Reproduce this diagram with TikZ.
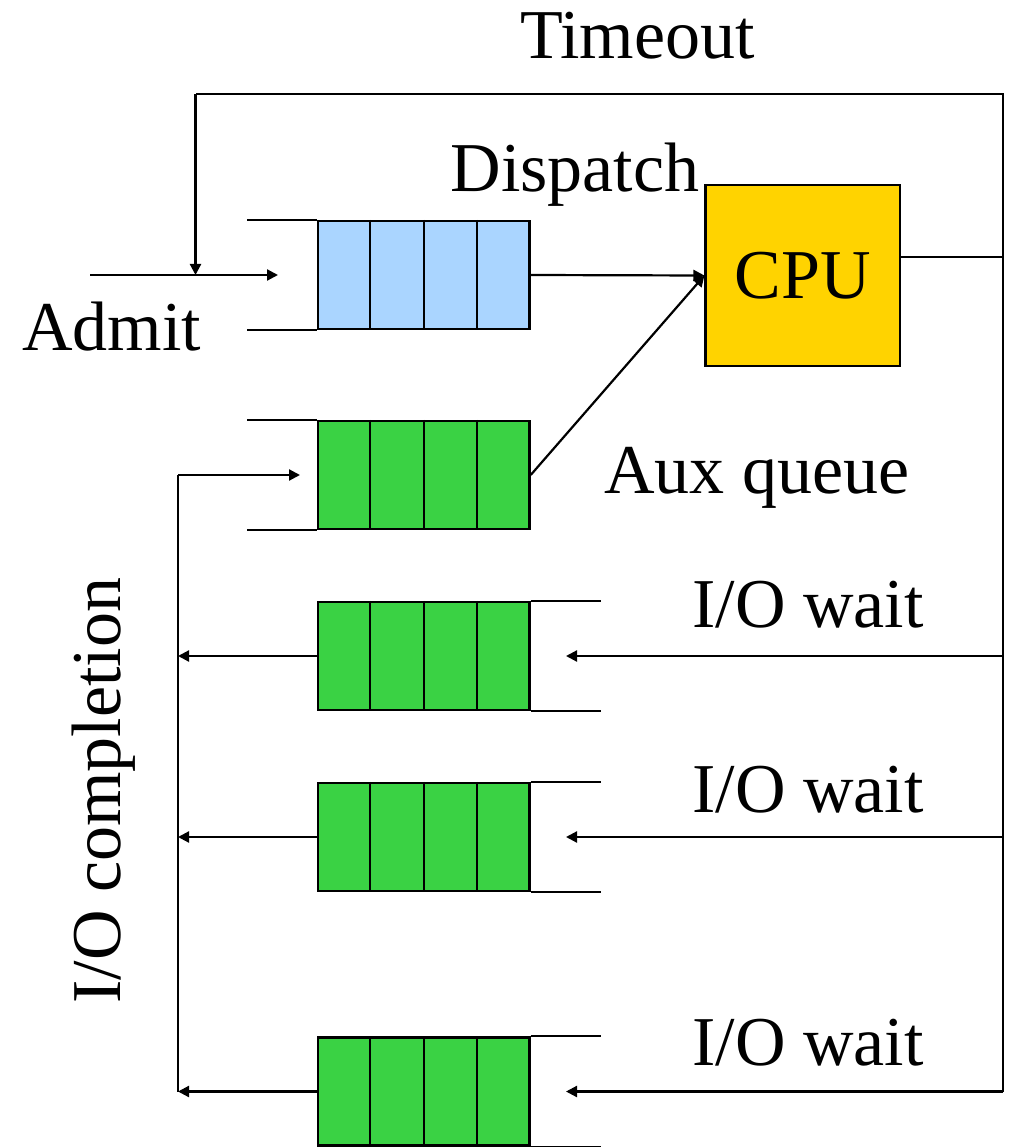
\documentclass[tikz,border=0pt]{standalone}
\usepackage{fontspec}
\setmainfont{Liberation Serif}
\usetikzlibrary{arrows.meta,calc}
\definecolor{qblue}{RGB}{170,213,255}
\definecolor{qgreen}{RGB}{58,210,68}
\definecolor{cpugold}{RGB}{255,211,0}
\begin{document}
\begin{tikzpicture}[x=1pt,y=-1pt,
  lbl/.style={font=\fontsize{70}{84}\selectfont, inner sep=0pt, anchor=base},
  qbox/.style={draw, line width=2.4pt, rectangle, inner sep=0pt, minimum width=211.5pt, minimum height=108pt},
  cpubox/.style={draw, line width=2.2pt, rectangle, fill=cpugold, inner sep=0pt, minimum width=194.5pt, minimum height=181pt, font=\fontsize{70}{84}\selectfont},
  arr/.style={-{Triangle[length=11pt,width=11pt]}},
  wire/.style={line width=2.2pt}]
\useasboundingbox (0,0) rectangle (1009,1147);

% queues
\node[qbox, fill=qblue]  (q0) at (423.75,275) {};
\node[qbox, fill=qgreen] (q1) at (423.75,475) {};
\node[qbox, fill=qgreen] (q2) at (423.75,656) {};
\node[qbox, fill=qgreen] (q3) at (423.75,837) {};
\node[qbox, fill=qgreen] (q4) at (423.75,1091.5) {};
\foreach \q in {q0,q1,q2,q3,q4}{
  \foreach \k in {1,2,3}{
    \draw[line width=2.4pt] ($(\q.north west)!\k/4!(\q.north east)$) -- ($(\q.south west)!\k/4!(\q.south east)$);
  }
}
% queue side rails
\foreach \q in {q0,q1}{
  \draw[wire] (\q.north west) -- ++(-70,0);
  \draw[wire] (\q.south west) -- ++(-70,0);
}
\foreach \q in {q2,q3,q4}{
  \draw[wire] (\q.north east) -- ++(70.5,0);
  \draw[wire] (\q.south east) -- ++(70.5,0);
}

% CPU
\node[cpubox] (cpu) at (802.75,275.5) {CPU};

% labels
\node[lbl] (timeout) at (637.5,59) {Timeout};
\node[lbl] (dispatch) at (575,192) {Dispatch};
\node[lbl] (admit) at (111.5,350) {Admit};
\node[lbl] (aux) at (757,493) {Aux queue};
\node[lbl] (w1) at (808,627) {I/O wait};
\node[lbl] (w2) at (808,812) {I/O wait};
\node[lbl] (w3) at (808,1065) {I/O wait};
\node[lbl, rotate=90] (ioc) at (120,790.5) {I/O completion};

% coordinates
\coordinate (rtop) at (1003,94);
\coordinate (rcpu) at (1003,257);
\coordinate (rbot) at (1003,1091.5);
\coordinate (ltop) at (195.5,94);
\coordinate (ladm) at (195.5,275);
\coordinate (admin) at (90,275);
\coordinate (admtip) at (278,275);
\coordinate (cvtop) at (178,475);
\coordinate (cvbot) at (178,1091.5);
\coordinate (auxtip) at (300,475);

% admit
\draw[wire, arr] (admin) -- (admtip);
% dispatch
\draw[wire, arr] (q0.east) -- (cpu.west);
\draw[wire, arr] (q1.east) -- (cpu.west);
% CPU out and right bus
\draw[wire] (cpu.east |- rcpu) -- (rcpu);
\draw[wire] (rbot) -- (rtop) -- (ltop);
\draw[wire, arr] (ltop) -- (ladm);
% I/O wait inputs
\foreach \q in {q2,q3,q4}{
  \draw[wire, arr] (rtop |- \q.center) -- (566,0 |- \q.center);
  \draw[wire, arr] (\q.west) -- (cvtop |- \q.center);
}
% I/O completion bus
\draw[wire] (cvbot) -- (cvtop);
\draw[wire, arr] (cvtop) -- (auxtip);
\end{tikzpicture}
\end{document}
